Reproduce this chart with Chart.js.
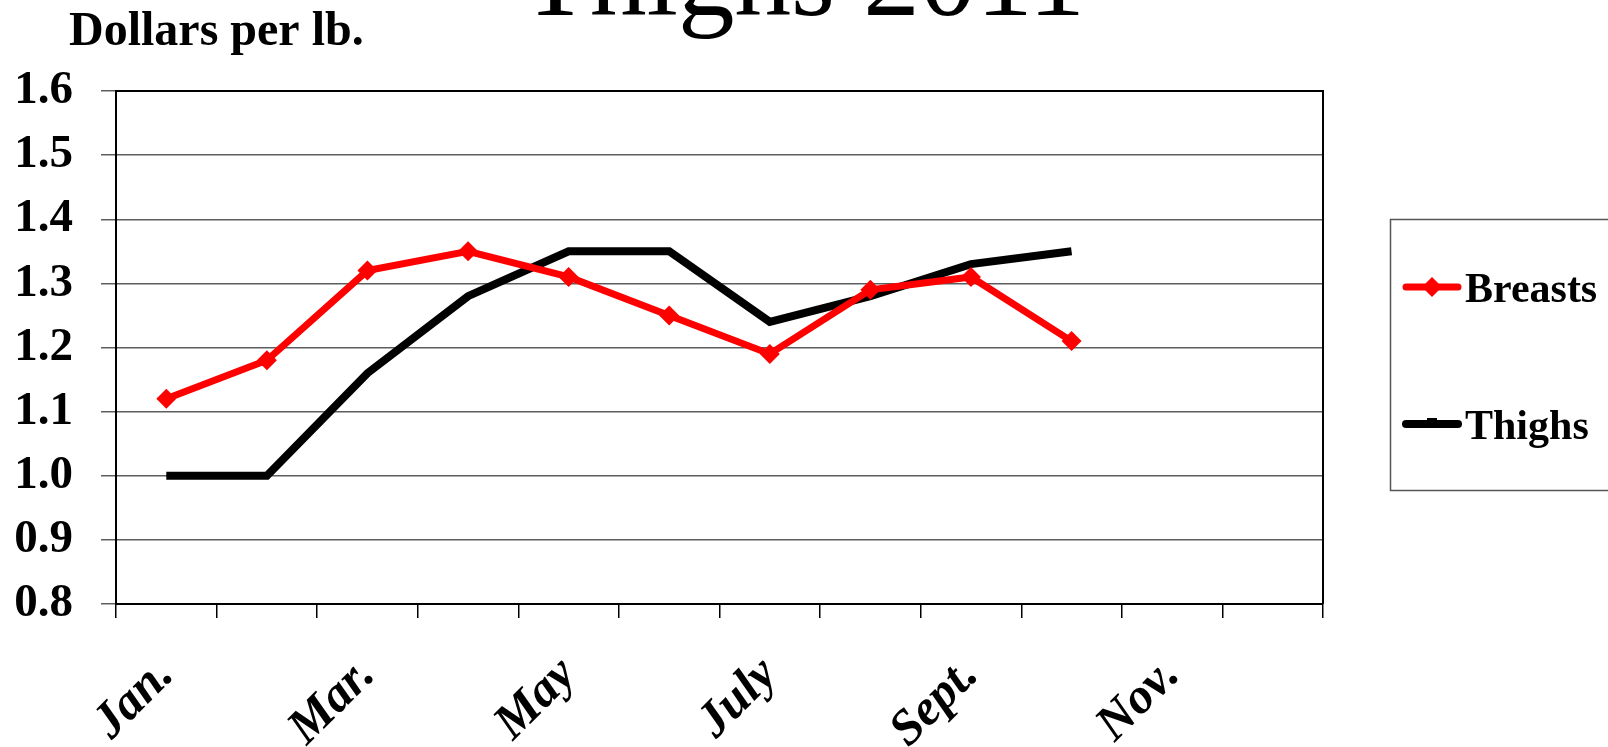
<!DOCTYPE html>
<html>
<head>
<meta charset="utf-8">
<script src="https://cdn.jsdelivr.net/npm/chart.js@4.4.0/dist/chart.umd.min.js"></script>
<style>
  html, body { margin: 0; padding: 0; background: #fff; }
  #wrap { position: relative; width: 1608px; height: 747px; }
</style>
</head>
<body>
<div id="wrap"><canvas id="c" width="1608" height="747"></canvas></div>
<script>
// ---- data ----
const categories = ['Jan.', 'Feb.', 'Mar.', 'Apr.', 'May', 'June', 'July', 'Aug.', 'Sept.', 'Oct.', 'Nov.', 'Dec.'];
const shownLabels = ['Jan.', '', 'Mar.', '', 'May', '', 'July', '', 'Sept.', '', 'Nov.', ''];
const breasts = [1.12, 1.18, 1.32, 1.35, 1.31, 1.25, 1.19, 1.29, 1.31, 1.21];
const thighs  = [1.00, 1.00, 1.16, 1.28, 1.35, 1.35, 1.24, 1.28, 1.33, 1.35];
const yTicks = [0.8, 0.9, 1.0, 1.1, 1.2, 1.3, 1.4, 1.5, 1.6];
const titleText = 'Thighs 2011';
const yAxisTitle = 'Dollars per lb.';

const SERIF = '"Liberation Serif", "Times New Roman", serif';

const textPlugin = {
  id: 'texts',
  afterDraw(chart) {
    const ctx = chart.ctx;
    ctx.save();
    ctx.fillStyle = '#000';
    ctx.textBaseline = 'alphabetic';
    ctx.textAlign = 'center';
    ctx.font = '113px ' + SERIF;
    ctx.fillText(titleText, 803, 15);
    ctx.textAlign = 'left';
    ctx.font = 'bold 48px ' + SERIF;
    ctx.fillText(yAxisTitle, 69, 45);
    ctx.restore();
  }
};

const borderPlugin = {
  id: 'plotBorder',
  afterDatasetsDraw(chart) {
    const a = chart.chartArea, ctx = chart.ctx;
    ctx.save();
    ctx.strokeStyle = '#000';
    ctx.lineWidth = 2;
    ctx.beginPath();
    ctx.moveTo(a.left, a.top);
    ctx.lineTo(a.right, a.top);
    ctx.lineTo(a.right, a.bottom);
    ctx.stroke();
    ctx.restore();
  }
};

const legendPlugin = {
  id: 'boxLegend',
  afterDraw(chart) {
    const ctx = chart.ctx;
    ctx.save();
    ctx.strokeStyle = '#555';
    ctx.lineWidth = 1.5;
    ctx.strokeRect(1390.5, 219.5, 260, 271);
    const rows = [287, 424];
    chart.data.datasets.forEach((ds, i) => {
      const y = rows[i];
      ctx.strokeStyle = ds.borderColor;
      ctx.lineWidth = ds.borderWidth;
      ctx.lineCap = 'round';
      ctx.beginPath();
      ctx.moveTo(1406, y);
      ctx.lineTo(1458, y);
      ctx.stroke();
      if (ds.pointRadius > 0) {
        ctx.fillStyle = ds.pointBackgroundColor;
        const r = ds.pointRadius;
        ctx.beginPath();
        ctx.moveTo(1432, y - r);
        ctx.lineTo(1432 + r, y);
        ctx.lineTo(1432, y + r);
        ctx.lineTo(1432 - r, y);
        ctx.closePath();
        ctx.fill();
      } else {
        ctx.fillStyle = ds.borderColor;
        ctx.fillRect(1427, y - 6, 10, 4);
      }
      ctx.fillStyle = '#000';
      ctx.font = 'bold 42px ' + SERIF;
      ctx.textAlign = 'left';
      ctx.textBaseline = 'alphabetic';
      ctx.fillText(ds.label, 1465, y + 15);
    });
    ctx.restore();
  }
};

new Chart(document.getElementById('c'), {
  type: 'line',
  data: {
    labels: categories,
    datasets: [
      {
        label: 'Breasts',
        data: breasts,
        borderColor: '#ff0000',
        backgroundColor: '#ff0000',
        borderWidth: 7,
        pointStyle: 'rectRot',
        pointRadius: 10,
        pointBackgroundColor: '#ff0000',
        pointBorderColor: '#ff0000',
        pointBorderWidth: 0,
        tension: 0,
        fill: false
      },
      {
        label: 'Thighs',
        data: thighs,
        borderColor: '#000000',
        backgroundColor: '#000000',
        borderWidth: 8,
        pointRadius: 0,
        pointBackgroundColor: '#000000',
        tension: 0,
        fill: false
      }
    ]
  },
  options: {
    responsive: false,
    animation: false,
    devicePixelRatio: 1,
    layout: { padding: { top: 91, right: 285, bottom: 0, left: 0 } },
    plugins: {
      legend: { display: false },
      title: { display: false },
      tooltip: { enabled: false }
    },
    scales: {
      x: {
        type: 'category',
        offset: true,
        grid: {
          offset: true,
          drawOnChartArea: false,
          drawTicks: true,
          tickLength: 14,
          color: '#000',
          lineWidth: 1.5
        },
        border: { display: true, color: '#000', width: 2 },
        ticks: {
          autoSkip: false,
          maxRotation: 45,
          minRotation: 45,
          padding: 28,
          color: '#000',
          font: { family: SERIF, size: 50, weight: 'bold', style: 'italic' },
          callback: (v, i) => shownLabels[i]
        },
        afterFit(scale) { scale.height = 143; scale.paddingLeft = 0; scale.paddingRight = 0; }
      },
      y: {
        min: 0.8,
        max: 1.6,
        afterBuildTicks(scale) { scale.ticks = yTicks.map(v => ({ value: v })); },
        grid: {
          color: '#5e5e5e',
          lineWidth: 1.5,
          tickLength: 15,
          drawTicks: true
        },
        border: { display: true, color: '#000', width: 2 },
        ticks: {
          padding: 28,
          color: '#000',
          font: { family: SERIF, size: 47, weight: 'bold' },
          callback: v => Number(v).toFixed(1)
        },
        afterFit(scale) { scale.width = 116; }
      }
    }
  },
  plugins: [textPlugin, borderPlugin, legendPlugin]
});
</script>
</body>
</html>
